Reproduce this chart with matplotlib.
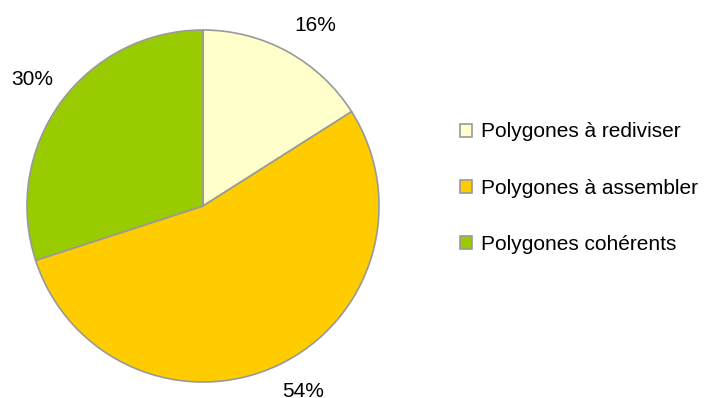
import matplotlib
matplotlib.use("Agg")
import matplotlib.pyplot as plt
from matplotlib.patches import Patch

plt.rcParams['font.family'] = ['Liberation Sans', 'DejaVu Sans']

categories = ["Polygones à rediviser", "Polygones à assembler", "Polygones cohérents"]
shares = [16, 54, 30]
colors = ["#FFFFCC", "#FFCC00", "#99CC00"]
edge = "#999999"

# where the percentage labels sit, in units of the pie radius
label_pos = [(0.636, 1.023), (0.568, -1.052), (-0.972, 0.716)]

W, H = 706, 398
fig = plt.figure(figsize=(W / 100, H / 100), dpi=100)

cx, cy, r = 203, 206, 176
ax = fig.add_axes([(cx - r) / W, (H - cy - r) / H, 2 * r / W, 2 * r / H])
wedges, texts, autotexts = ax.pie(
    shares, colors=colors, startangle=90, counterclock=False,
    autopct=lambda p: f"{p:.0f}%", pctdistance=1.2,
    wedgeprops=dict(edgecolor=edge, linewidth=1.2),
    textprops=dict(fontsize=15, color="black"),
)
ax.set_xlim(-1, 1)
ax.set_ylim(-1, 1)
ax.set_aspect("equal")
for t, pos in zip(autotexts, label_pos):
    t.set_position(pos)
    t.set_clip_on(False)

handles = [Patch(facecolor=c, edgecolor=edge, linewidth=1.2) for c in colors]
fig.legend(handles, categories, loc="center left",
           bbox_to_anchor=(441 / W, (H - 188) / H),
           frameon=False, fontsize=15, handlelength=0.58, handleheight=0.58,
           handletextpad=0.42, labelspacing=1.78)

fig.savefig("out.png", dpi=100)
